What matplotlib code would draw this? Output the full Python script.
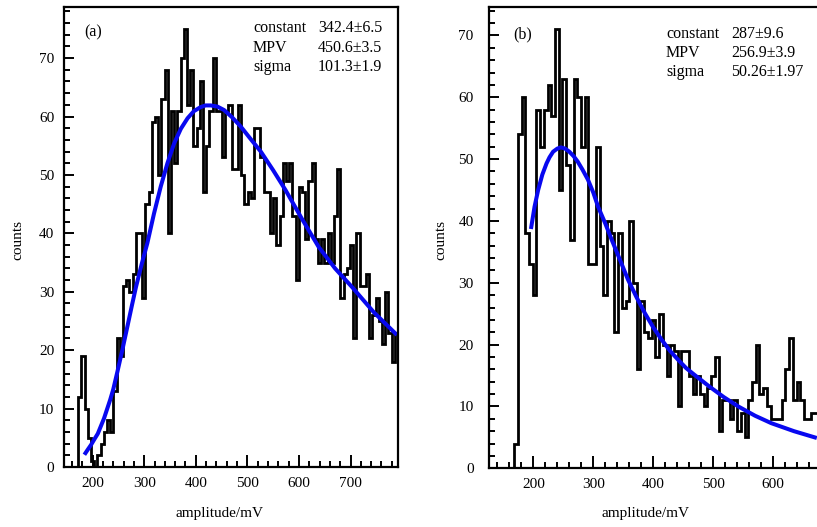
import numpy as np
import matplotlib
matplotlib.use('Agg')
import matplotlib.pyplot as plt
from matplotlib.ticker import MultipleLocator

plt.rcParams['font.family'] = ['Liberation Serif', 'DejaVu Serif']

# ---------------- data ----------------
bin_width = 6.2
start_a = 172.0
start_b = 168.0

counts_a = [12, 19, 10, 5, 1, 0, 2, 4, 6, 8,
            6, 13, 22, 19, 31, 32, 30, 33, 40, 40,
            29, 45, 47, 59, 60, 50, 63, 68, 40, 61,
            52, 61, 70, 75, 62, 68, 55, 58, 66, 47,
            55, 61, 70, 61, 61, 53, 61, 62, 51, 51,
            62, 50, 45, 47, 46, 58, 58, 53, 47, 47,
            40, 46, 38, 43, 52, 49, 52, 43, 32, 48,
            47, 39, 49, 52, 39, 35, 39, 35, 40, 35,
            43, 51, 29, 33, 34, 38, 22, 40, 31, 31,
            33, 22, 26, 29, 25, 21, 30, 23, 18, 23]

counts_b = [4, 54, 60, 38, 33, 28, 58, 52, 58, 62,
            57, 71, 45, 63, 49, 37, 63, 60, 52, 60,
            33, 33, 52, 36, 28, 40, 38, 22, 38, 26,
            27, 40, 30, 16, 27, 22, 21, 24, 18, 25,
            20, 15, 20, 19, 10, 19, 19, 15, 12, 15,
            12, 10, 13, 15, 18, 6, 11, 11, 8, 11,
            6, 9, 5, 11, 14, 20, 12, 13, 10, 8,
            8, 8, 11, 16, 21, 11, 14, 11, 8, 8,
            9, 9]

# Landau fit curves
fit_x_a = [184, 190, 197, 203, 210, 216, 222, 228, 234, 240, 248, 258,
           268, 276, 284, 295, 306, 319, 332, 345, 358, 371, 384, 396,
           409, 419, 429, 442, 455, 470, 487, 505, 526, 550, 574, 605,
           638, 670, 703, 745, 790]
fit_y_a = [2.1, 2.9, 3.8, 4.7, 5.7, 7.0, 8.3, 9.9, 11.5, 13.3, 16.3, 20.2,
           24.3, 27.6, 30.8, 34.7, 38.3, 43.4, 48.0, 52.0, 55.4, 57.9, 59.7,
           60.9, 61.6, 61.9, 61.9, 61.7, 61.1, 59.9, 58.3, 56.3, 54.0, 50.8,
           47.4, 42.6, 37.7, 34.0, 30.8, 26.5, 22.6]

fit_x_b = [196, 202, 208, 215, 222, 227, 233, 240, 246, 253, 260, 267,
           274, 282, 291, 300, 308, 320, 331, 345, 358, 372, 386, 400,
           414, 428, 442, 455, 469, 494, 518, 542, 570, 597, 635, 673]
fit_y_b = [38.7, 42.3, 45.0, 47.5, 49.3, 50.3, 51.2, 51.7, 51.9, 51.7,
           51.2, 50.5, 49.6, 48.3, 46.7, 44.6, 42.3, 39.6, 36.9, 33.6,
           30.5, 27.7, 25.1, 22.8, 20.8, 19.0, 17.5, 16.2, 15.1, 13.2,
           11.5, 10.0, 8.5, 7.3, 6.0, 4.9]

stat_names = ['constant', 'MPV', 'sigma']
stat_vals_a = ['342.4\u00b16.5', '450.6\u00b13.5', '101.3\u00b11.9']
stat_vals_b = ['287\u00b19.6', '256.9\u00b13.9', '50.26\u00b11.97']

W, H = 817, 527
fig = plt.figure(figsize=(W / 100, H / 100), dpi=100)


def px(x, y):
    return x / W, 1 - y / H


def setup(ax, ymax, pad_y):
    ax.set_ylim(0, ymax)
    ax.xaxis.set_major_locator(MultipleLocator(100))
    ax.xaxis.set_minor_locator(MultipleLocator(20))
    ax.yaxis.set_major_locator(MultipleLocator(10))
    ax.yaxis.set_minor_locator(MultipleLocator(2))
    ax.tick_params(axis='x', which='major', direction='in', length=9,
                   width=1.4, labelsize=11, pad=7)
    ax.tick_params(axis='x', which='minor', direction='in', length=4.5,
                   width=1.4)
    ax.tick_params(axis='y', which='major', direction='in', length=7.5,
                   width=1.4, labelsize=11, pad=pad_y)
    ax.tick_params(axis='y', which='minor', direction='in', length=4,
                   width=1.4)
    for s in ax.spines.values():
        s.set_linewidth(1.6)


def draw(ax, counts, start, fx, fy):
    edges = start + bin_width * np.arange(len(counts) + 1)
    ax.stairs(counts, edges, color='black', linewidth=2.0, baseline=0)
    ax.plot(fx, fy, color='#0808f0', linewidth=2.9,
            solid_joinstyle='round', solid_capstyle='butt')


# panel (a)
ax1 = fig.add_axes([64 / W, 1 - 467 / H, (398 - 64) / W, (467 - 7.3) / H])
ax1.set_xlim(144.5, 792)
setup(ax1, 78.7, 7)
draw(ax1, counts_a, start_a, fit_x_a, fit_y_a)

# panel (b) - right side runs off the figure edge
ax2 = fig.add_axes([489 / W, 1 - 468.3 / H, (821 - 489) / W, (468.3 - 7) / H])
ax2.set_xlim(126, 680)
setup(ax2, 74.6, 11)
draw(ax2, counts_b, start_b, fit_x_b, fit_y_b)

# text
fs = 11.5
fig.text(*px(84, 32), '(a)', fontsize=fs, va='center')
fig.text(*px(513, 34), '(b)', fontsize=fs, va='center')
for i, name in enumerate(stat_names):
    fig.text(*px(253, 28.5 + 19.3 * i), name, fontsize=fs, va='center')
    fig.text(*px(318, 28.5 + 19.3 * i), stat_vals_a[i], fontsize=fs, va='center')
    fig.text(*px(666, 33.5 + 19.3 * i), name, fontsize=fs, va='center')
    fig.text(*px(731, 33.5 + 19.3 * i), stat_vals_b[i], fontsize=fs, va='center')

fig.text(*px(18, 240), 'counts', fontsize=11, rotation=90,
         ha='center', va='center')
fig.text(*px(441, 240), 'counts', fontsize=11, rotation=90,
         ha='center', va='center')
fig.text(*px(220, 514), 'amplitude/mV', fontsize=11, ha='center', va='center')
fig.text(*px(646, 514), 'amplitude/mV', fontsize=11, ha='center', va='center')

fig.savefig('out.png', dpi=100)
